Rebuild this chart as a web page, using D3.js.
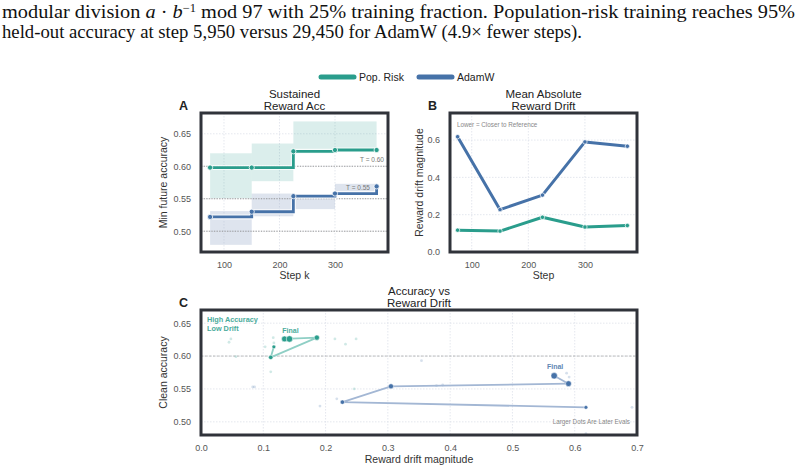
<!DOCTYPE html>
<html>
<head>
<meta charset="utf-8">
<script src="https://cdn.jsdelivr.net/npm/d3@7"></script>
<style>
  body { margin: 0; background: #fff; }
  svg text { font-family: "Liberation Sans", Arial, sans-serif; }
  .caption { font-family: "Liberation Serif", "Times New Roman", serif !important; fill: #111; }
</style>
</head>
<body>
<div id="chart"></div>
<script>
//eval steps (shared by panels A and B)
const steps = [75, 150, 225, 300, 375];

//panel A - min future accuracy per step
const popMinAcc  = [0.598, 0.598, 0.623, 0.625, 0.625];
const adamMinAcc = [0.522, 0.530, 0.554, 0.558, 0.569];
//spread bands, one per step interval
const popBandLo  = [0.551, 0.577, 0.620, 0.626];
const popBandHi  = [0.620, 0.635, 0.669, 0.669];
const adamBandLo = [0.479, 0.523, 0.534, 0.557];
const adamBandHi = [0.531, 0.558, 0.555, 0.573];
const thresholds = [0.60, 0.55];
const thresholdLabels = ["T = 0.60", "T = 0.55"];

//panel B - mean absolute reward drift
const popDrift  = [0.117, 0.112, 0.186, 0.134, 0.142];
const adamDrift = [0.618, 0.227, 0.305, 0.590, 0.567];

//panel C - clean accuracy at each eval
const popCleanAcc  = [0.614, 0.598, 0.628, 0.626, 0.626];
const adamCleanAcc = [0.522, 0.530, 0.554, 0.558, 0.570];

//faint background evals in panel C
const bgDrift = [0.048, 0.045, 0.056, 0.103, 0.116, 0.117, 0.112, 0.083, 0.086, 0.215, 0.232, 0.249,
                 0.246, 0.218, 0.191, 0.354, 0.378, 0.388, 0.587, 0.591, 0.692, 0.142, 0.618];
const bgAcc   = [0.626, 0.621, 0.599, 0.614, 0.628, 0.620, 0.576, 0.553, 0.553, 0.626, 0.618, 0.626,
                 0.550, 0.535, 0.524, 0.593, 0.555, 0.556, 0.574, 0.568, 0.522, 0.670, 0.482];
const bgGroup = ["p", "p", "p", "p", "p", "p", "p", "a", "a", "p", "p", "p",
                 "p", "a", "a", "a", "a", "a", "a", "a", "a", "p", "a"];

//tick values
const ticksA_y = [0.50, 0.55, 0.60, 0.65];
const ticksStep = [100, 200, 300];
const ticksB_y = [0.0, 0.2, 0.4, 0.6];
const ticksC_x = [0.0, 0.1, 0.2, 0.3, 0.4, 0.5, 0.6, 0.7];
const ticksC_y = [0.50, 0.55, 0.60, 0.65];

const seriesNames = ["Pop. Risk", "AdamW"];
const teal = "#2a9d8c";
const blue = "#4672a8";
const frameColor = "#30333a";
const gridColor = "#dde1ea";

var svg = d3.select("#chart").append("svg")
    .attr("width", 804)
    .attr("height", 472);

//caption at top (serif, like the paper text)
var cap1 = svg.append("text").attr("class", "caption")
    .attr("x", 2).attr("y", 18)
    .attr("font-size", 19.5)
    .attr("textLength", 793).attr("lengthAdjust", "spacingAndGlyphs");
cap1.append("tspan").text("modular division ");
cap1.append("tspan").attr("font-style", "italic").text("a");
cap1.append("tspan").text(" \u00b7 ");
cap1.append("tspan").attr("font-style", "italic").text("b");
cap1.append("tspan").attr("font-size", 12).attr("dy", -6).text("\u22121");
cap1.append("tspan").attr("dy", 6).text(" mod 97 with 25% training fraction. Population-risk training reaches 95%");

svg.append("text").attr("class", "caption")
    .attr("x", 2).attr("y", 38)
    .attr("font-size", 19.5)
    .attr("textLength", 580).attr("lengthAdjust", "spacingAndGlyphs")
    .text("held-out accuracy at step 5,950 versus 29,450 for AdamW (4.9\u00d7 fewer steps).");

//legend
var legend = svg.append("g");
[teal, blue].forEach(function(c, i) {
    var lx = 321 + i * 98;
    legend.append("line")
        .attr("x1", lx).attr("x2", lx + 33)
        .attr("y1", 77).attr("y2", 77)
        .attr("stroke", c).attr("stroke-width", 5)
        .attr("stroke-linecap", "round");
    legend.append("text")
        .attr("x", lx + 38).attr("y", 81)
        .attr("font-size", 10.5).attr("fill", "#222")
        .text(seriesNames[i]);
});

//helper: frame, title, panel letter, tick labels and grid
function panelFrame(x, y, opt) {
    var x0 = x.range()[0], x1 = x.range()[1];
    var y0 = y.range()[0], y1 = y.range()[1];
    var g = svg.append("g");

    //grid lines
    opt.xt.forEach(function(t) {
        g.append("line").attr("x1", x(t)).attr("x2", x(t)).attr("y1", y1).attr("y2", y0)
            .attr("stroke", gridColor).attr("stroke-width", 0.8).attr("stroke-dasharray", "1.5,1.5");
    });
    opt.yt.forEach(function(t) {
        g.append("line").attr("x1", x0).attr("x2", x1).attr("y1", y(t)).attr("y2", y(t))
            .attr("stroke", gridColor).attr("stroke-width", 0.8).attr("stroke-dasharray", "1.5,1.5");
    });

    //x axis tick labels
    var ax = svg.append("g").attr("transform", "translate(0," + (y0 + 7) + ")")
        .call(d3.axisBottom(x).tickValues(opt.xt).tickSize(0).tickFormat(opt.xf));
    ax.select(".domain").remove();
    ax.selectAll("text").attr("font-size", 9).attr("fill", "#555");

    //y axis tick labels
    var ay = svg.append("g").attr("transform", "translate(" + (x0 - 7) + ",0)")
        .call(d3.axisLeft(y).tickValues(opt.yt).tickSize(0).tickFormat(opt.yf));
    ay.select(".domain").remove();
    ay.selectAll("text").attr("font-size", 9).attr("fill", "#555");

    //axis labels
    svg.append("text").attr("x", (x0 + x1) / 2).attr("y", opt.xly)
        .attr("text-anchor", "middle").attr("font-size", 10.5).attr("fill", "#333")
        .text(opt.xl);
    svg.append("text")
        .attr("transform", "translate(" + opt.ylx + "," + ((y0 + y1) / 2) + ") rotate(-90)")
        .attr("text-anchor", "middle").attr("font-size", 10.5).attr("fill", "#333")
        .text(opt.yl);

    //title (two lines, one text element)
    var title = svg.append("text").attr("y", y1 - 15)
        .attr("text-anchor", "middle").attr("font-size", 11.5).attr("fill", "#222");
    opt.title.forEach(function(t, i) {
        title.append("tspan").attr("x", (x0 + x1) / 2).attr("dy", i == 0 ? 0 : 12).text(t);
    });
    //panel letter
    svg.append("text").attr("x", x0 - 22).attr("y", y1 - 3)
        .attr("font-size", 12.5).attr("font-weight", "bold").attr("fill", "#222")
        .text(opt.letter);
    return g;
}

function drawBorder(x, y) {
    svg.append("rect")
        .attr("x", x.range()[0]).attr("y", y.range()[1])
        .attr("width", x.range()[1] - x.range()[0])
        .attr("height", y.range()[0] - y.range()[1])
        .attr("fill", "none").attr("stroke", frameColor).attr("stroke-width", 3);
}

//================= Panel A =================
var xA = d3.scaleLinear().domain([58.6, 395.5]).range([201, 388]);
var yA = d3.scaleLinear().domain([0.468, 0.682]).range([252, 113]);

panelFrame(xA, yA, {
    xt: ticksStep, yt: ticksA_y, xf: d3.format("d"), yf: d3.format(".2f"),
    xl: "Step k", yl: "Min future accuracy", xly: 279, ylx: 167,
    title: ["Sustained", "Reward Acc"], letter: "A"
});

//spread bands
function bands(lo, hi, fill, op) {
    svg.append("g").selectAll("rect")
        .data(lo)
        .enter()
        .append("rect")
            .attr("x", function(d, i) { return xA(steps[i]); })
            .attr("width", function(d, i) { return xA(steps[i + 1]) - xA(steps[i]); })
            .attr("y", function(d, i) { return yA(hi[i]); })
            .attr("height", function(d, i) { return yA(lo[i]) - yA(hi[i]); })
            .attr("fill", fill).attr("opacity", op);
}
bands(popBandLo, popBandHi, teal, 0.17);
bands(adamBandLo, adamBandHi, "#a9b8d2", 0.38);

//reference lines
thresholds.concat([0.50]).forEach(function(t) {
    svg.append("line").attr("x1", xA.range()[0]).attr("x2", xA.range()[1])
        .attr("y1", yA(t)).attr("y2", yA(t))
        .attr("stroke", "#9a9a9a").attr("stroke-width", 1).attr("stroke-dasharray", "1.3,1.3");
});
svg.append("text").attr("x", 384).attr("y", yA(thresholds[0]) - 4)
    .attr("text-anchor", "end").attr("font-size", 6.5).attr("fill", "#777")
    .text(thresholdLabels[0]);
svg.append("text").attr("x", 370).attr("y", yA(thresholds[1]) - 8.5)
    .attr("text-anchor", "end").attr("font-size", 6.5).attr("fill", "#777")
    .text(thresholdLabels[1]);

//step lines
var stepLine = d3.line()
    .x(function(d, i) { return xA(steps[i]); })
    .y(function(d) { return yA(d); })
    .curve(d3.curveStepAfter);

[[popMinAcc, teal], [adamMinAcc, blue]].forEach(function(s) {
    svg.append("path").datum(s[0]).attr("d", stepLine)
        .attr("fill", "none").attr("stroke", "#fff").attr("stroke-width", 5).attr("opacity", 0.8);
    svg.append("path").datum(s[0]).attr("d", stepLine)
        .attr("fill", "none").attr("stroke", s[1]).attr("stroke-width", 2.8);
    svg.append("g").selectAll("circle")
        .data(s[0])
        .enter()
        .append("circle")
            .attr("cx", function(d, i) { return xA(steps[i]); })
            .attr("cy", function(d) { return yA(d); })
            .attr("r", 2.6)
            .style("fill", s[1])
            .attr("stroke", "#fff").attr("stroke-width", 0.8);
});
drawBorder(xA, yA);

//================= Panel B =================
var xB = d3.scaleLinear().domain([61.6, 392]).range([450, 637]);
var yB = d3.scaleLinear().domain([0, 0.745]).range([252, 113]);

panelFrame(xB, yB, {
    xt: ticksStep, yt: ticksB_y, xf: d3.format("d"), yf: d3.format(".1f"),
    xl: "Step", yl: "Reward drift magnitude", xly: 279, ylx: 423,
    title: ["Mean Absolute", "Reward Drift"], letter: "B"
});

svg.append("text").attr("x", 457).attr("y", 127)
    .attr("font-size", 6.3).attr("fill", "#888")
    .text("Lower = Closer to Reference");

var driftLine = d3.line()
    .x(function(d, i) { return xB(steps[i]); })
    .y(function(d) { return yB(d); });

[[popDrift, teal], [adamDrift, blue]].forEach(function(s) {
    svg.append("path").datum(s[0]).attr("d", driftLine)
        .attr("fill", "none").attr("stroke", s[1]).attr("stroke-width", 3)
        .attr("stroke-linejoin", "round");
    svg.append("g").selectAll("circle")
        .data(s[0])
        .enter()
        .append("circle")
            .attr("cx", function(d, i) { return xB(steps[i]); })
            .attr("cy", function(d) { return yB(d); })
            .attr("r", 2.2)
            .style("fill", s[1])
            .attr("stroke", "#fff").attr("stroke-width", 0.7);
});
drawBorder(xB, yB);

//================= Panel C =================
var xC = d3.scaleLinear().domain([0, 0.7]).range([201, 637]);
var yC = d3.scaleLinear().domain([0.48, 0.67]).range([435, 310]);

panelFrame(xC, yC, {
    xt: ticksC_x, yt: ticksC_y, xf: d3.format(".1f"), yf: d3.format(".2f"),
    xl: "Reward drift magnitude", yl: "Clean accuracy", xly: 463, ylx: 167,
    title: ["Accuracy vs", "Reward Drift"], letter: "C"
});

//0.60 reference
svg.append("line").attr("x1", xC.range()[0]).attr("x2", xC.range()[1])
    .attr("y1", yC(0.60)).attr("y2", yC(0.60))
    .attr("stroke", "#aaa").attr("stroke-width", 0.8).attr("stroke-dasharray", "2.5,1.5");

//faint background evals
svg.append("g").selectAll("circle")
    .data(bgDrift)
    .enter()
    .append("circle")
        .attr("cx", function(d) { return xC(d); })
        .attr("cy", function(d, i) { return yC(bgAcc[i]); })
        .attr("r", 1.4)
        .style("fill", function(d, i) { return bgGroup[i] == "p" ? teal : blue; })
        .attr("opacity", 0.22);

var rScale = d3.scaleLinear().domain([0, steps.length - 1]).range([1.9, 3.2]);
var pathC = d3.line()
    .x(function(d) { return xC(d[0]); })
    .y(function(d) { return yC(d[1]); });

[[popDrift, popCleanAcc, teal, "#8fcfc5"], [adamDrift, adamCleanAcc, blue, "#a3b7d4"]].forEach(function(s) {
    var pts = s[0].map(function(d, i) { return [d, s[1][i]]; });
    svg.append("path").datum(pts).attr("d", pathC)
        .attr("fill", "none").attr("stroke", s[3]).attr("stroke-width", 1.8)
        .attr("stroke-linejoin", "round");
    svg.append("g").selectAll("circle")
        .data(pts)
        .enter()
        .append("circle")
            .attr("cx", function(d) { return xC(d[0]); })
            .attr("cy", function(d) { return yC(d[1]); })
            .attr("r", function(d, i) { return rScale(i); })
            .style("fill", s[2])
            .attr("stroke", "#fff").attr("stroke-width", 0.5);
});

//annotations
var hl = svg.append("text").attr("y", 322)
    .attr("font-size", 7.3).attr("font-weight", "bold").attr("fill", teal).attr("opacity", 0.85);
hl.append("tspan").attr("x", 207).text("High Accuracy");
hl.append("tspan").attr("x", 207).attr("dy", 8.5).text("Low Drift");
svg.append("text").attr("x", xC(popDrift[4]) + 1).attr("y", 333)
    .attr("text-anchor", "middle").attr("font-size", 7).attr("font-weight", "bold")
    .attr("fill", teal).attr("opacity", 0.85).text("Final");
svg.append("text").attr("x", xC(adamDrift[4]) + 1).attr("y", 369)
    .attr("text-anchor", "middle").attr("font-size", 7).attr("font-weight", "bold")
    .attr("fill", blue).attr("opacity", 0.85).text("Final");
svg.append("text").attr("x", 630).attr("y", 424)
    .attr("text-anchor", "end").attr("font-size", 6.3).attr("fill", "#888")
    .text("Larger Dots Are Later Evals");

drawBorder(xC, yC);
</script>
</body>
</html>
